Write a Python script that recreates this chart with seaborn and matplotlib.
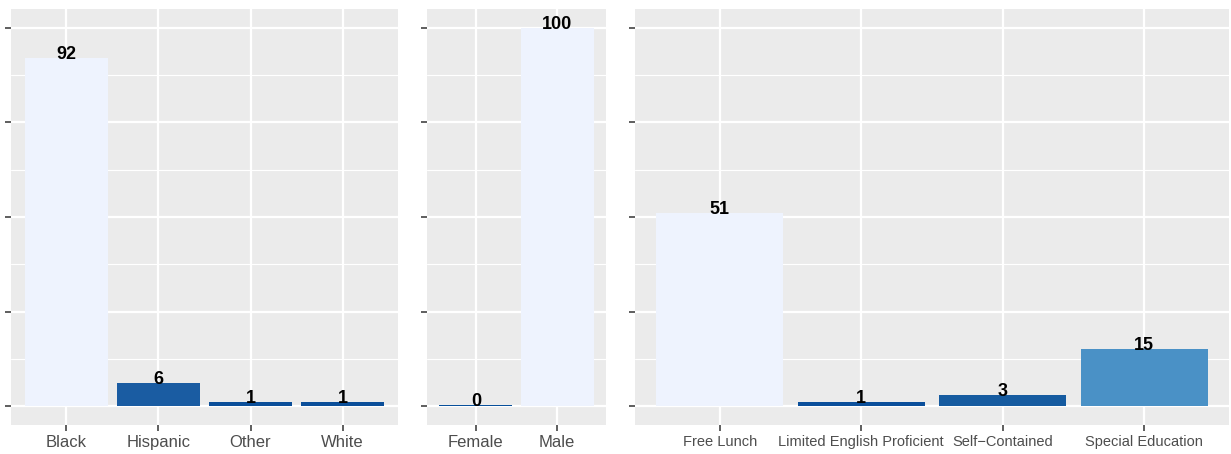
import matplotlib.pyplot as plt
import pandas as pd
import seaborn as sns

# data
race_labels = ["Black", "Hispanic", "Other", "White"]
race_values = [92, 6, 1, 1]
race_colors = ["#EEF3FE", "#1A5CA2", "#0B4F9A", "#0B4F9A"]

gender_labels = ["Female", "Male"]
gender_values = [0.3, 100]
gender_colors = ["#08509B", "#EEF3FE"]

program_labels = ["Free Lunch", "Limited English Proficient", "Self\u2212Contained", "Special Education"]
program_values = [51, 1, 3, 15]
program_colors = ["#EEF3FE", "#0A4F9B", "#165BA0", "#4A91C6"]

sns.set_theme(style="darkgrid", rc={
    "axes.facecolor": "#EBEBEB",
    "grid.color": "white",
    "axes.edgecolor": "none",
})
plt.rcParams["font.family"] = ["Liberation Sans", "DejaVu Sans"]

fig = plt.figure(figsize=(12.31, 4.54), dpi=100)
bottom, top = 0.0639, 0.9802
boxes = [
    (0.0089, 0.3233),
    (0.3469, 0.4923),
    (0.5158, 0.9984),
]
panels = [
    (race_labels, race_values, race_colors, 12),
    (gender_labels, gender_values, gender_colors, 12),
    (program_labels, program_values, program_colors, 10.5),
]

for (x0, x1), (labels, values, colors, fs) in zip(boxes, panels):
    ax = fig.add_axes([x0, bottom, x1 - x0, top - bottom])
    df = pd.DataFrame({"group": labels, "pct": values})
    sns.barplot(data=df, x="group", y="pct", hue="group",
                palette=dict(zip(labels, colors)), width=0.9,
                saturation=1, legend=False, linewidth=0, ax=ax, zorder=3)
    for c in ax.containers:
        ax.bar_label(c, fmt="%.0f", padding=-3.5, fontsize=13,
                     fontweight="bold", color="black")
    ax.set_xlim(-0.6, len(labels) - 0.4)
    ax.set_ylim(-5, 105)
    ax.set_yticks([0, 25, 50, 75, 100])
    ax.set_yticks([12.5, 37.5, 62.5, 87.5], minor=True)
    ax.set_yticklabels([])
    ax.grid(which="major", color="white", linewidth=1.6, zorder=0)
    ax.grid(which="minor", axis="y", color="white", linewidth=0.8, zorder=0)
    ax.set_axisbelow(True)
    ax.tick_params(axis="both", which="major", length=4, width=1.1, color="#333333",
                   left=True, bottom=True, pad=3.5)
    ax.tick_params(axis="y", which="minor", length=0)
    ax.tick_params(axis="x", labelsize=fs, labelcolor="#4D4D4D")
    ax.set_xlabel("")
    ax.set_ylabel("")
    for s in ax.spines.values():
        s.set_visible(False)

fig.savefig("out.png", dpi=100)
